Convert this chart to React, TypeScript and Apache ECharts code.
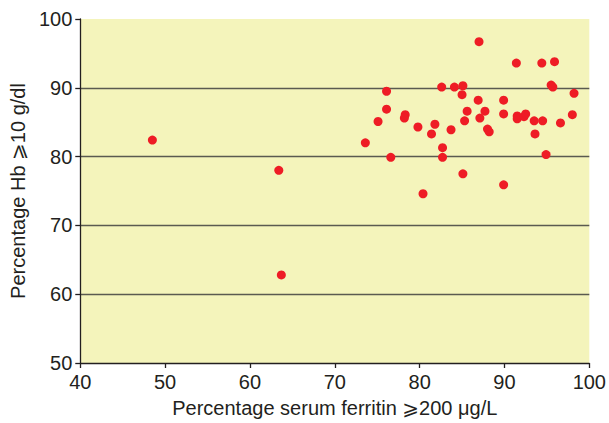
import React, { useEffect, useRef } from "react";
import * as echarts from "echarts";

const ferritinPct: number[] = [
  48.5, 63.4, 63.7,
  87.0, 91.4, 94.4, 95.9, 76.1, 82.6, 84.1, 85.1, 95.5, 95.7, 85.0, 98.2,
  86.9, 89.9, 76.1, 78.3, 78.2, 75.1, 85.6, 87.7, 89.9, 87.1, 85.3, 91.5,
  91.5, 92.3, 92.5, 93.5, 94.5, 98.0, 96.6, 79.8, 81.8, 83.7, 81.4, 88.0,
  88.2, 93.6, 73.6, 82.7, 76.6, 82.7, 94.9, 85.1, 89.9, 80.4,
];
const hbPct: number[] = [
  82.4, 78.0, 62.8,
  96.7, 93.6, 93.6, 93.8, 89.5, 90.1, 90.1, 90.3, 90.4, 90.1, 89.0, 89.2,
  88.2, 88.2, 86.9, 86.1, 85.6, 85.1, 86.6, 86.6, 86.2, 85.6, 85.2, 85.9,
  85.5, 85.8, 86.2, 85.2, 85.2, 86.1, 84.9, 84.3, 84.7, 83.9, 83.3, 84.0,
  83.6, 83.3, 82.0, 81.3, 79.9, 79.9, 80.3, 77.5, 75.9, 74.6,
];

const xTitle = "Percentage serum ferritin ⩾200 μg/L";
const yTitle = "Percentage Hb ⩾10 g/dl";

export default function App() {
  const ref = useRef<HTMLDivElement>(null);
  useEffect(() => {
    if (!ref.current) return;
    const chart = echarts.init(ref.current, undefined, { renderer: "svg" });
    const font = "'Liberation Sans', Arial, 'DejaVu Sans', sans-serif";
    const textColor = "#231f20";
    chart.setOption({
      animation: false,
      grid: {
        left: 77,
        right: 15,
        top: 19,
        bottom: 57,
        show: true,
        backgroundColor: "#f4f4bb",
        borderWidth: 0,
      },
      xAxis: {
        type: "value",
        min: 40,
        max: 100,
        interval: 10,
        name: xTitle,
        nameLocation: "middle",
        nameGap: 35,
        nameTextStyle: { fontSize: 20, color: textColor, fontFamily: font },
        axisLine: { show: true, lineStyle: { color: "#231f20", width: 1.3 } },
        axisTick: { show: true, inside: false, length: 5, lineStyle: { color: "#231f20", width: 1.3 } },
        axisLabel: { fontSize: 20, color: textColor, fontFamily: font, margin: 9 },
        splitLine: { show: false },
      },
      yAxis: {
        type: "value",
        min: 50,
        max: 100,
        interval: 10,
        name: yTitle,
        nameLocation: "middle",
        nameGap: 48,
        nameTextStyle: { fontSize: 20, color: textColor, fontFamily: font },
        axisLine: { show: true, lineStyle: { color: "#231f20", width: 1.3 } },
        axisTick: { show: true, inside: false, length: 5, lineStyle: { color: "#231f20", width: 1.3 } },
        axisLabel: { fontSize: 20, color: textColor, fontFamily: font, margin: 8 },
        splitLine: {
          show: true,
          showMinLine: false,
          showMaxLine: false,
          lineStyle: { color: "#5a5a50", width: 1.3 },
        },
      },
      series: [
        {
          type: "scatter",
          data: ferritinPct.map((x, i) => [x, hbPct[i]]),
          symbol: "circle",
          symbolSize: 9,
          itemStyle: { color: "#ee1c25", opacity: 1 },
        },
      ],
    });
    return () => chart.dispose();
  }, []);
  return <div ref={ref} style={{ width: 609, height: 423, position: "absolute", left: 0, top: 0 }} />;
}
